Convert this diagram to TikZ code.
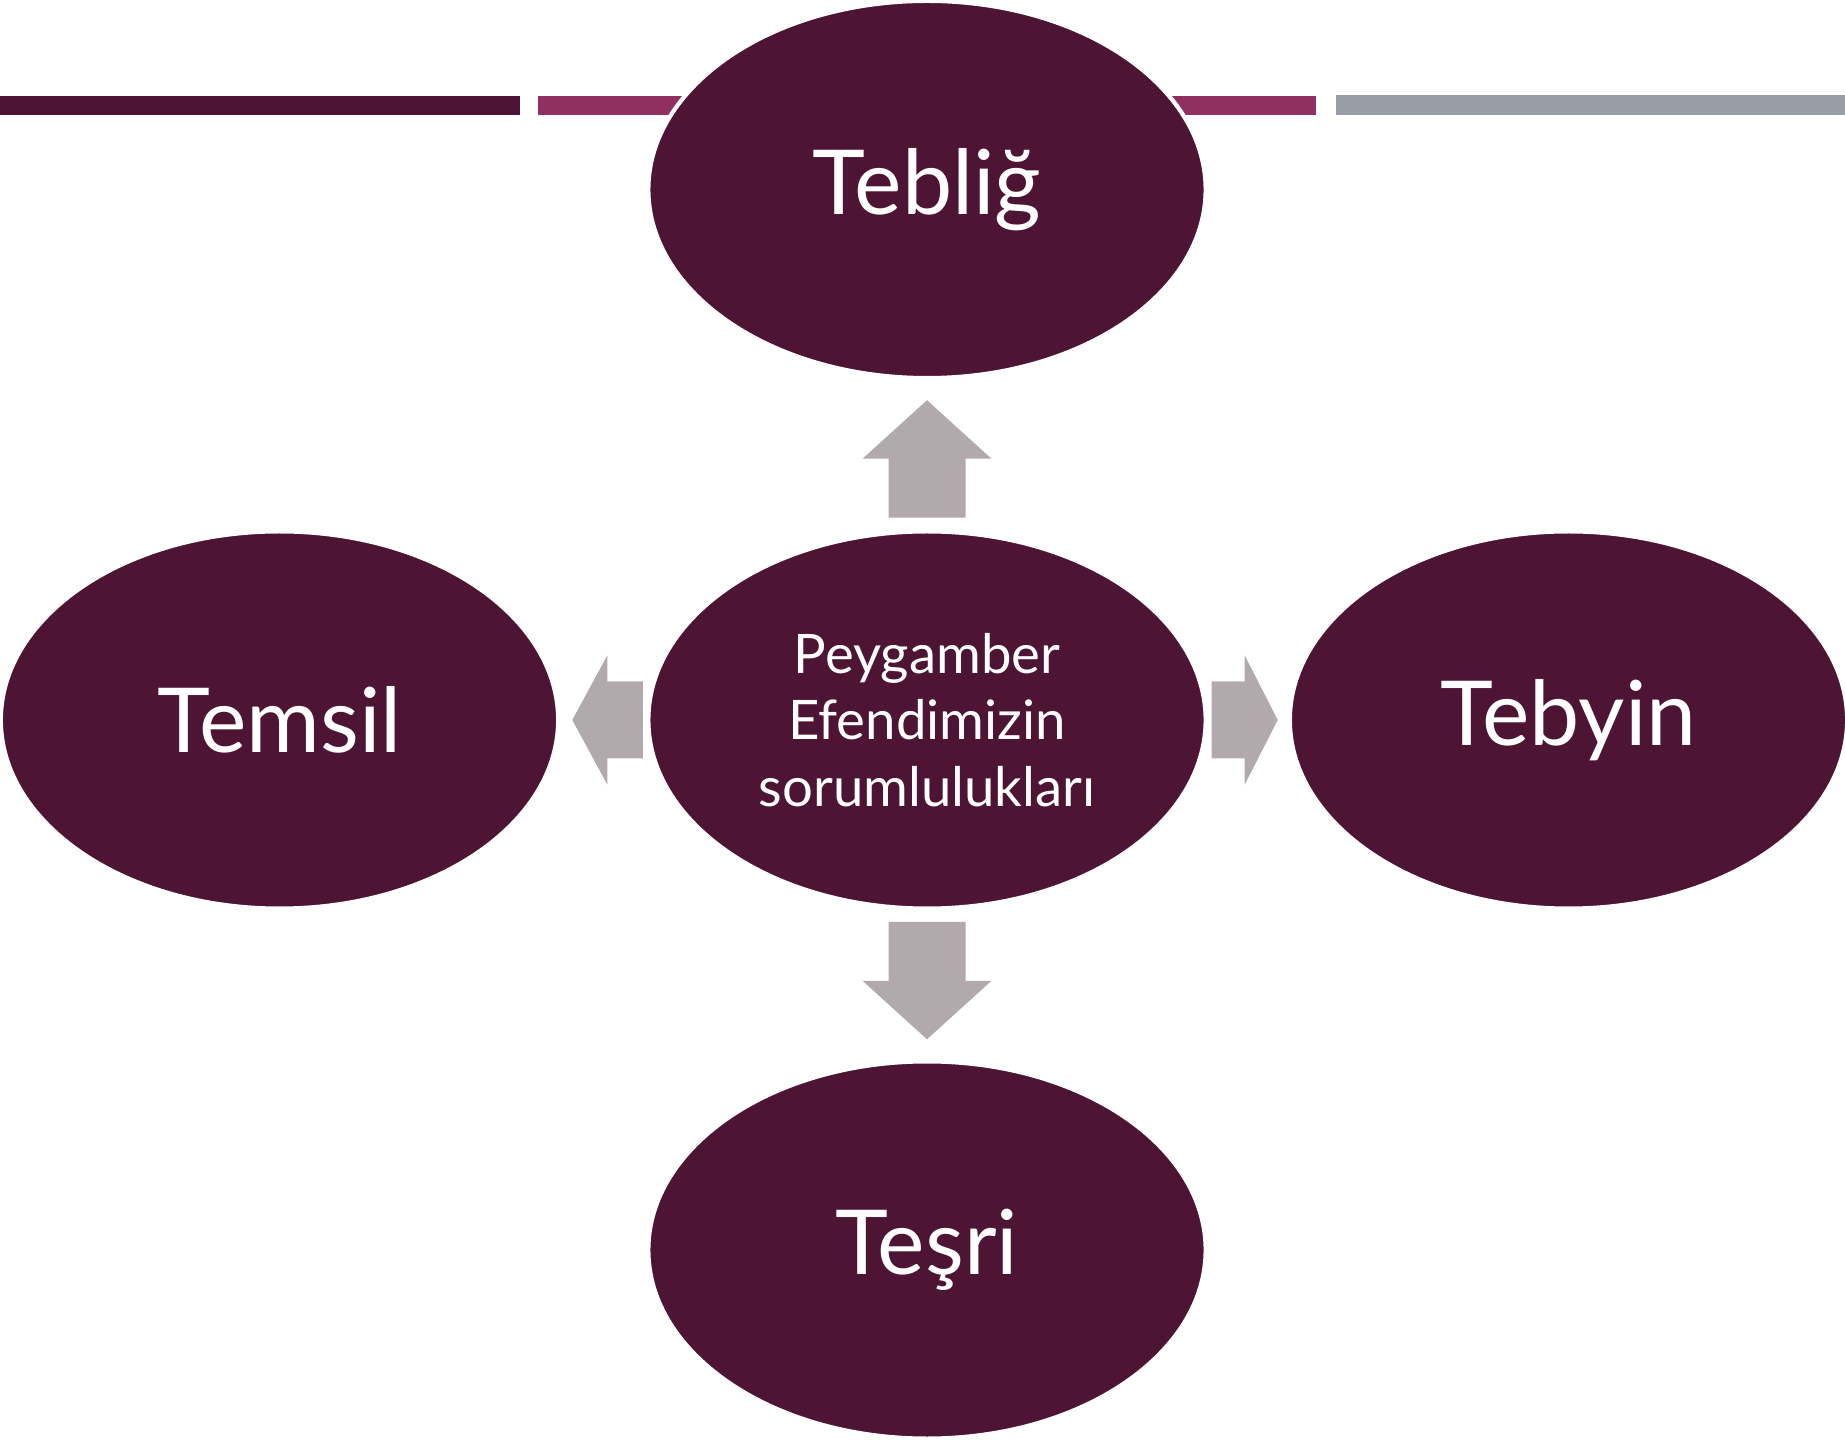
\documentclass[tikz,border=0pt]{standalone}
\usepackage{fontspec}
\setmainfont{Lato}
\usetikzlibrary{shapes.geometric}
\definecolor{plum}{HTML}{4D1434}
\definecolor{rosebar}{HTML}{8F3060}
\definecolor{slatebar}{HTML}{979EA6}
\definecolor{arrowgray}{HTML}{B2A9AD}

\begin{document}
\begin{tikzpicture}[x=0.01cm, y=-0.01cm,
  every node/.style={ellipse, fill=plum, draw=white, line width=1.2pt, inner sep=0pt,
    minimum width=5.57cm, minimum height=3.77cm, text=white,
    font=\fontsize{25.5}{30}\selectfont}]
\useasboundingbox (0,0) rectangle (1845,1440);

\fill[plum] (0,96) rectangle (520,115.5);
\fill[rosebar] (538,96) rectangle (1316,115.5);
\fill[slatebar] (1336,95) rectangle (1845,115.5);

\node (centre) at (927,720) [align=center, font=\fontsize{15.5}{19}\selectfont]
  {Peygamber\\Efendimizin\\sorumlulukları};
\node (teblig) at (927,189.5) {Tebliğ};
\node (tesri) at (927,1250) {Teşri};
\node (temsil) at (279.5,720) {Temsil};
\node (tebyin) at (1568.5,720) {Tebyin};

\foreach \tgt/\rot/\gap/\hl/\len in {teblig.south/0/20/58.5/117.5, tesri.north/180/20/58.5/117.5,
    temsil.east/90/12/35/70.5, tebyin.west/-90/10/33/66}
  \fill[arrowgray, shift={(\tgt)}, rotate=\rot]
    (0,\gap) -- (64.5,\gap+\hl) -- (38.5,\gap+\hl) -- (38.5,\gap+\len)
    -- (-38.5,\gap+\len) -- (-38.5,\gap+\hl) -- (-64.5,\gap+\hl) -- cycle;
\end{tikzpicture}
\end{document}
